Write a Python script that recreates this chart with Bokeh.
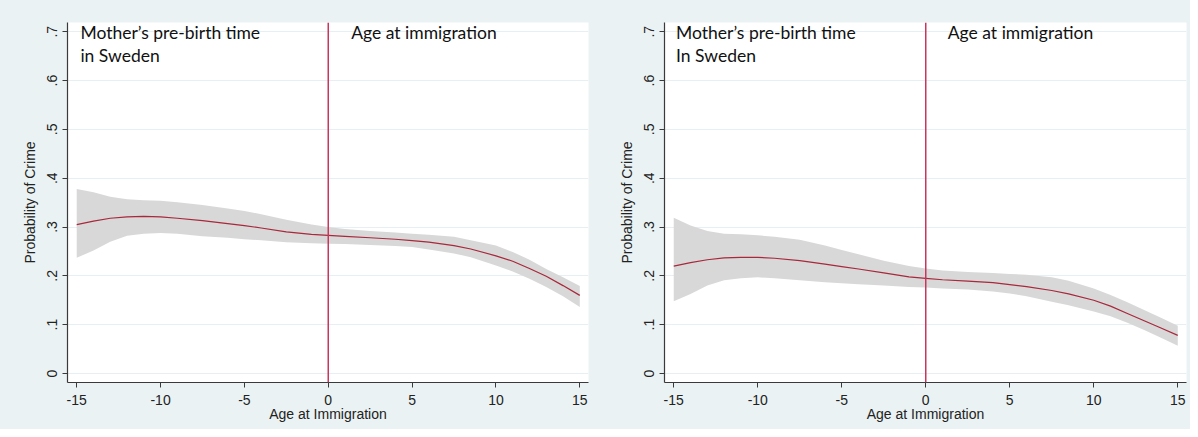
from bokeh.plotting import figure
from bokeh.layouts import row
from bokeh.models import Range1d, Span, Label, FixedTicker
from bokeh.embed import file_html
from bokeh.resources import INLINE

# ---- data ----
age = [-15, -14, -13, -12, -11, -10, -9, -7.5, -6, -5, -4, -2.5, -1, 0, 1, 2.5,
       4, 5, 6, 7.5, 8.5, 10, 11, 12, 13, 14, 15]

fit_left = [0.305, 0.312, 0.318, 0.321, 0.322, 0.321, 0.318, 0.313, 0.307, 0.303, 0.298, 0.290, 0.285, 0.283,
            0.281, 0.278, 0.275, 0.272, 0.269, 0.262, 0.255, 0.241, 0.230, 0.215, 0.199, 0.180, 0.160]
upper_left = [0.378, 0.371, 0.362, 0.357, 0.355, 0.354, 0.351, 0.345, 0.338, 0.333, 0.326, 0.315, 0.305, 0.300,
              0.296, 0.292, 0.289, 0.286, 0.284, 0.280, 0.273, 0.262, 0.249, 0.233, 0.214, 0.197, 0.179]
lower_left = [0.237, 0.252, 0.270, 0.282, 0.286, 0.288, 0.286, 0.281, 0.278, 0.275, 0.273, 0.269, 0.267, 0.266,
              0.265, 0.263, 0.261, 0.259, 0.254, 0.246, 0.238, 0.221, 0.209, 0.194, 0.177, 0.158, 0.136]

fit_right = [0.220, 0.227, 0.233, 0.237, 0.238, 0.238, 0.236, 0.231, 0.224, 0.219, 0.214, 0.206, 0.198, 0.195,
             0.192, 0.189, 0.186, 0.182, 0.178, 0.170, 0.163, 0.150, 0.138, 0.123, 0.108, 0.093, 0.078]
upper_right = [0.319, 0.303, 0.292, 0.286, 0.285, 0.283, 0.280, 0.274, 0.262, 0.253, 0.244, 0.231, 0.220, 0.215,
               0.211, 0.208, 0.206, 0.204, 0.202, 0.197, 0.190, 0.174, 0.161, 0.146, 0.130, 0.114, 0.098]
lower_right = [0.148, 0.163, 0.180, 0.191, 0.195, 0.197, 0.195, 0.191, 0.187, 0.185, 0.183, 0.180, 0.177, 0.176,
               0.174, 0.172, 0.168, 0.164, 0.158, 0.147, 0.140, 0.127, 0.117, 0.104, 0.089, 0.073, 0.057]

x_ticks = [-15, -10, -5, 0, 5, 10, 15]
x_tick_labels = ["-15", "-10", "-5", "0", "5", "10", "15"]
y_ticks = [0, 0.1, 0.2, 0.3, 0.4, 0.5, 0.6, 0.7]
y_tick_labels = ["0", ".1", ".2", ".3", ".4", ".5", ".6", ".7"]

left_notes = ["Mother\u2019s pre-birth time", "in Sweden"]
right_notes = ["Mother\u2019s pre-birth time", "In Sweden"]
after_note = "Age at immigration"

BG = "#eaf2f3"
AXIS_FONT = "Liberation Sans"
NOTE_FONT = "Lato"


def make_panel(width, border_left, border_right, fit, upper, lower, notes, note_x, after_x):
    p = figure(width=width, height=429, output_backend="svg", toolbar_location=None,
               x_range=Range1d(-15.55, 15.52), y_range=Range1d(-0.0185, 0.719),
               min_border_left=border_left, min_border_right=border_right,
               min_border_top=22, min_border_bottom=47,
               styles={"background-color": BG})
    p.border_fill_color = BG
    p.background_fill_color = "white"
    p.outline_line_color = None

    p.varea(x=age, y1=lower, y2=upper, fill_color="#d8d8d8", fill_alpha=1.0)
    p.line(x=age, y=fit, line_color="#a8283c", line_width=1.2)
    p.add_layout(Span(location=0, dimension="height", line_color="#c8365c", line_width=1.5))

    p.xgrid.grid_line_color = None
    p.ygrid.grid_line_color = "#e6eff1"
    p.ygrid.grid_line_width = 1.2

    p.xaxis.ticker = FixedTicker(ticks=x_ticks)
    p.xaxis.major_label_overrides = {t: l for t, l in zip(x_ticks, x_tick_labels)}
    p.yaxis.ticker = FixedTicker(ticks=y_ticks)
    p.yaxis.major_label_overrides = {t: l for t, l in zip(y_ticks, y_tick_labels)}
    p.yaxis.major_label_orientation = "vertical"

    for ax in (p.xaxis[0], p.yaxis[0]):
        ax.axis_line_color = "#3a3a3a"
        ax.axis_line_width = 1.2
        ax.major_tick_line_color = "#3a3a3a"
        ax.major_tick_out = 5
        ax.major_tick_in = 0
        ax.minor_tick_line_color = None
        ax.major_label_text_font = AXIS_FONT
        ax.major_label_text_font_size = "14px"
        ax.major_label_text_color = "#222222"
        ax.axis_label_text_font = AXIS_FONT
        ax.axis_label_text_font_size = "14px"
        ax.axis_label_text_font_style = "normal"
        ax.axis_label_text_color = "#222222"
        ax.major_label_standoff = 5

    p.xaxis.major_label_standoff = 7
    p.xaxis.axis_label_standoff = -2
    p.yaxis.axis_label_standoff = 7

    p.xaxis.axis_label = "Age at Immigration"
    p.yaxis.axis_label = "Probability of Crime"

    for yy, txt in zip([0.699, 0.652], notes):
        p.add_layout(Label(x=note_x, y=yy, text=txt, text_font=NOTE_FONT,
                           text_font_size="17.5px", text_color="#111111", text_baseline="alphabetic"))
    p.add_layout(Label(x=after_x, y=0.699, text=after_note, text_font=NOTE_FONT,
                       text_font_size="17.5px", text_color="#111111", text_baseline="alphabetic"))
    return p


p1 = make_panel(596, 67, 8, fit_left, upper_left, lower_left, left_notes, -14.78, 1.37)
p2 = make_panel(594, 68, 4, fit_right, upper_right, lower_right, right_notes, -14.86, 1.31)

layout = row(p1, p2, spacing=0)
open("out.html", "w").write(file_html(layout, INLINE))
